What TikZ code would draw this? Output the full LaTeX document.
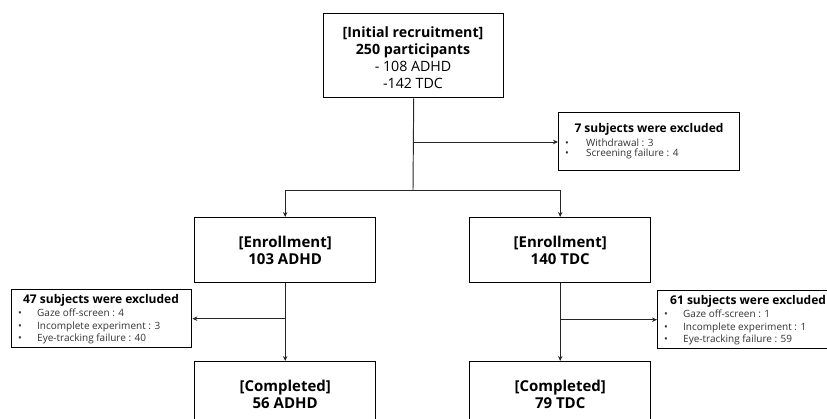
\documentclass[tikz,border=0pt]{standalone}
\usepackage{fontspec}
\setmainfont{Open Sans}
\usetikzlibrary{arrows.meta}
\begin{document}
\begin{tikzpicture}[x=1pt,y=-1pt,
  box/.style={draw=black, line width=1.4pt, fill=white, align=center, inner sep=0pt},
  exbox/.style={draw=black, line width=1.4pt, fill=white, inner sep=0pt, anchor=north west},
  conn/.style={line width=0.95pt, draw=black!85},
  arr/.style={conn, -{Stealth[length=5pt,width=4.5pt]}},
  title/.style={font=\bfseries\fontsize{15}{17}\selectfont},
  extitle/.style={font=\bfseries\fontsize{12}{13}\selectfont, inner sep=0pt},
  exlist/.style={anchor=north west, align=left, text=black!80, font=\fontsize{10}{12.2}\selectfont, inner sep=0pt},
]
\useasboundingbox (0,0) rectangle (827,419);
\clip (0,0) rectangle (827,419);

\node[box, minimum width=180, minimum height=84, anchor=north west] (top) at (323,13) {};
\node[font=\fontsize{14.2}{17.2}\selectfont, align=center] (toptxt) at (413,57.5)
  {\textbf{[Initial recruitment]}\\\textbf{250 participants}\\- 108 ADHD\\-142 TDC};

\node[box, minimum width=181, minimum height=65, anchor=north west] (enrL) at (194,217) {};
\node[title, align=center] (enrLt) at (enrL.center) {[Enrollment]\\103 ADHD};
\node[box, minimum width=181, minimum height=65, anchor=north west] (enrR) at (469,217) {};
\node[title, align=center] (enrRt) at (enrR.center) {[Enrollment]\\140 TDC};

\node[box, minimum width=181, minimum height=65, anchor=north west] (comL) at (194,361) {};
\node[title, align=center] (comLt) at (comL.center) {[Completed]\\56 ADHD};
\node[box, minimum width=181, minimum height=65, anchor=north west] (comR) at (469,361) {};
\node[title, align=center] (comRt) at (comR.center) {[Completed]\\79 TDC};

% exclusion boxes
\node[exbox, minimum width=181, minimum height=58] (ex1) at (558,112) {};
\node[extitle, anchor=north] (ex1t) at (649,123) {7 subjects were excluded};
\node[exlist, font=\fontsize{10}{10.2}\selectfont] (ex1b) at (565,139)
  {\makebox[21pt][l]{•}Withdrawal : 3\\\makebox[21pt][l]{•}Screening failure : 4};

\node[exbox, minimum width=180, minimum height=58] (ex2) at (11,289) {};
\node[extitle, anchor=north] (ex2t) at (101,294) {47 subjects were excluded};
\node[exlist] (ex2b) at (18,309)
  {\makebox[19pt][l]{•}Gaze off-screen : 4\\\makebox[19pt][l]{•}Incomplete experiment : 3\\\makebox[19pt][l]{•}Eye-tracking failure : 40};

\node[exbox, minimum width=180, minimum height=58] (ex3) at (657,290) {};
\node[extitle, anchor=north west] (ex3t) at (670,295) {61 subjects were excluded};
\node[exlist] (ex3b) at (664,310)
  {\makebox[19pt][l]{•}Gaze off-screen : 1\\\makebox[19pt][l]{•}Incomplete experiment : 1\\\makebox[19pt][l]{•}Eye-tracking failure : 59};

% connectors
\coordinate (split) at (413,190);
\draw[conn] (top.south) -- (split);
\draw[arr] (split) -| (enrL.north);
\draw[arr] (split) -| (enrR.north);
\draw[arr] (top.south |- 0,142) -- (ex1.west |- 0,142);
\draw[arr] (enrL.south) -- (comL.north);
\draw[arr] (enrR.south) -- (comR.north);
\draw[arr] (enrL.south |- ex2.east) -- (ex2.east);
\draw[arr] (enrR.south |- ex3.west) -- (ex3.west);
\end{tikzpicture}
\end{document}
